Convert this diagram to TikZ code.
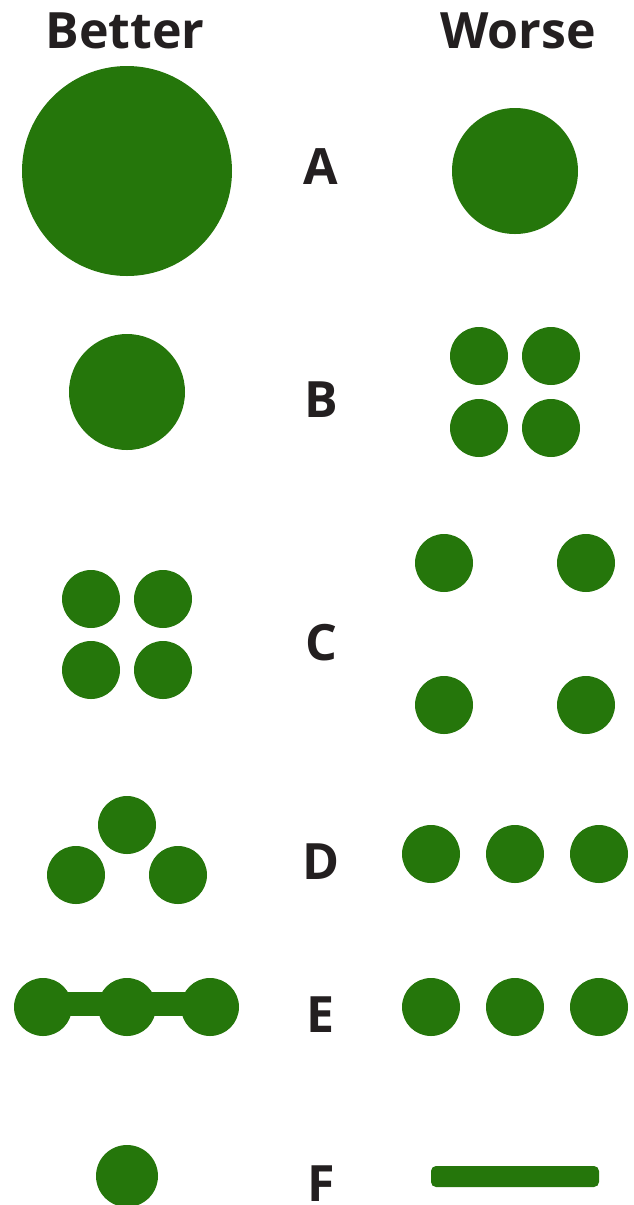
\documentclass[tikz,border=0pt]{standalone}
\usepackage{fontspec}
\setmainfont{Open Sans}
\definecolor{gruen}{HTML}{25760B}
\definecolor{schwarz}{HTML}{231F20}
\tikzset{
  dot/.style={fill=gruen},
  titel/.style={font=\fontsize{28.5}{30}\selectfont\bfseries,schwarz,anchor=base},
  buchst/.style={font=\fontsize{28.5}{30}\selectfont\bfseries,schwarz,anchor=base,inner sep=0pt},
}
\begin{document}
\begin{tikzpicture}[x=0.02cm,y=-0.02cm]
  \useasboundingbox (0,0) rectangle (634,1205);
  \node[titel] (better) at (125,48) {Better};
  \node[titel] (worse) at (518,48) {Worse};
  % A
  \node[buchst] (a) at (321,184) {A};
  \fill[dot] (127,171) circle (105);
  \fill[dot] (515,171) circle (63);
  % B
  \node[buchst] (b) at (321,417) {B};
  \fill[dot] (127,392) circle (58);
  \fill[dot] (479,356) circle (29); \fill[dot] (551,356) circle (29);
  \fill[dot] (479,428) circle (29); \fill[dot] (551,428) circle (29);
  % C
  \node[buchst] (c) at (321,660) {C};
  \fill[dot] (91,599) circle (29); \fill[dot] (163,599) circle (29);
  \fill[dot] (91,670) circle (29); \fill[dot] (163,670) circle (29);
  \fill[dot] (444,563) circle (29); \fill[dot] (586,563) circle (29);
  \fill[dot] (444,705) circle (29); \fill[dot] (586,705) circle (29);
  % D
  \node[buchst] (d) at (321,879) {D};
  \fill[dot] (127,825) circle (29);
  \fill[dot] (76,875) circle (29); \fill[dot] (178,875) circle (29);
  \fill[dot] (431,854) circle (29); \fill[dot] (515,854) circle (29); \fill[dot] (599,854) circle (29);
  % E
  \node[buchst] (e) at (321,1032) {E};
  \fill[dot] (42,992) rectangle (211,1016);
  \fill[dot] (43,1007) circle (29); \fill[dot] (127,1007) circle (29); \fill[dot] (210,1007) circle (29);
  \fill[dot] (431,1007) circle (29); \fill[dot] (515,1007) circle (29); \fill[dot] (599,1007) circle (29);
  % F
  \node[buchst] (f) at (321,1201) {F};
  \fill[dot] (127,1176) circle (31);
  \fill[dot,rounded corners=0.1cm] (431,1166) rectangle (599,1187);
\end{tikzpicture}
\end{document}
